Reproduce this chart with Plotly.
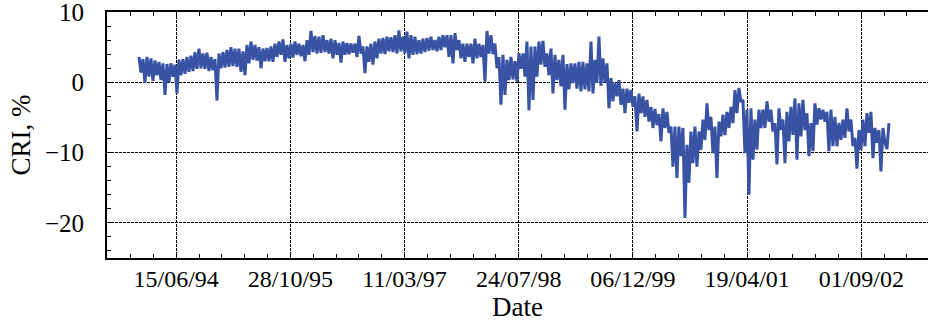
import pandas as pd
import plotly.graph_objects as go

# Upper / lower envelope of the dense daily CRI trace, read column by column (~17 days each)
cri_hi = [3.6, 3.3, 3.6, 3.4, 3.1, 2.9, 2.7, 2.6, 2.7, 2.5, 3.2, 3.3, 3.6, 3.8, 4.3, 4.8,
          4.1, 4.2, 3.6, 3.3, 4.1, 4.3, 4.6, 5.0, 4.8, 4.8, 4.4, 5.3, 5.8, 5.3, 5.0, 4.8,
          4.9, 5.1, 5.5, 5.8, 6.1, 5.3, 5.5, 5.8, 5.5, 5.3, 6.0, 7.3, 6.6, 6.5, 6.7, 6.0,
          6.2, 6.0, 5.6, 5.8, 5.6, 5.5, 5.5, 6.6, 5.1, 5.1, 5.5, 5.8, 6.2, 6.3, 6.5, 6.4,
          6.7, 7.4, 6.5, 7.2, 6.7, 6.5, 6.0, 6.2, 6.3, 6.5, 6.0, 6.5, 6.7, 6.7, 6.7, 7.0,
          6.0, 5.5, 5.5, 5.5, 6.2, 5.5, 5.3, 7.3, 6.7, 5.5, 3.6, 3.9, 3.2, 3.6, 3.0, 4.1,
          4.1, 5.8, 5.1, 5.1, 5.8, 5.9, 4.1, 4.8, 3.9, 3.2, 3.9, 2.6, 2.7, 2.7, 2.9, 2.9,
          2.7, 5.8, 3.2, 6.5, 3.4, 2.7, 0.6, -0.1, 0.3, -0.9, -0.9, -1.1, -2.0, -1.6, -2.0, -2.5,
          -3.5, -3.8, -4.5, -3.7, -4.2, -6.3, -6.3, -6.3, -6.5, -8.9, -7.0, -6.3, -7.0, -5.3, -3.0, -4.9,
          -6.3, -5.6, -4.6, -4.2, -3.5, -1.1, -0.8, -2.5, -3.9, -3.7, -5.3, -3.9, -3.9, -2.7, -3.9, -5.8,
          -3.7, -5.3, -4.2, -3.5, -2.3, -3.0, -2.5, -4.4, -5.8, -3.0, -3.7, -3.9, -4.2, -3.9, -4.9, -5.8,
          -5.3, -3.7, -5.3, -7.9, -6.8, -5.3, -4.4, -4.2, -6.5, -6.8, -6.5, -9.5]
cri_lo = [1.4, -0.1, 0.8, 0.2, 1.0, 0.3, -1.8, 0.0, 0.8, -1.6, 1.0, 1.2, 1.5, 1.6, 1.9, 2.0,
          1.9, 1.6, 1.7, -2.6, 2.0, 2.1, 2.2, 2.3, 2.2, 1.5, 1.0, 2.7, 3.2, 3.1, 2.0, 3.0,
          3.0, 2.9, 3.6, 3.9, 2.9, 3.4, 3.5, 3.9, 3.7, 3.0, 3.9, 4.3, 4.1, 4.2, 4.3, 4.1,
          3.4, 3.9, 2.8, 3.9, 4.0, 4.2, 3.6, 4.1, 1.3, 2.9, 2.5, 3.4, 4.1, 4.0, 4.4, 4.3,
          4.1, 4.4, 4.1, 3.4, 3.9, 4.0, 4.1, 4.3, 4.5, 4.6, 4.4, 4.6, 5.0, 3.6, 2.7, 4.6,
          3.4, 2.9, 3.6, 2.7, 3.4, 3.6, 0.1, 4.1, 4.0, 2.0, -3.2, -1.8, 0.3, 0.4, 0.1, 1.9,
          0.8, -4.0, -2.5, 0.8, 2.5, 2.2, 1.0, -1.6, 0.3, -0.6, -3.9, -1.0, -0.1, -0.9, -1.3, -1.0,
          -1.3, -1.6, -0.1, -0.5, 0.0, -3.7, -2.7, -2.0, -3.2, -4.4, -2.9, -3.5, -7.0, -4.4, -4.9, -5.6,
          -6.5, -6.1, -8.4, -6.5, -7.2, -12.0, -13.6, -10.5, -19.3, -14.3, -11.5, -12.0, -9.6, -8.2, -6.8, -10.1,
          -13.6, -7.7, -7.5, -6.5, -5.8, -4.4, -2.8, -10.1, -16.0, -11.0, -9.6, -6.5, -6.5, -5.6, -7.0, -11.7,
          -6.8, -11.5, -8.4, -7.5, -11.0, -7.7, -6.8, -10.5, -9.8, -6.0, -5.3, -5.6, -9.8, -9.1, -9.1, -8.2,
          -7.9, -7.0, -9.1, -12.3, -9.6, -9.1, -7.2, -10.8, -8.6, -12.7, -8.6, -5.8]

tick_dates = ["1994-06-15", "1995-10-28", "1997-03-11", "1998-07-24",
              "1999-12-06", "2001-04-19", "2002-09-01"]
tick_labels = ["15/06/94", "28/10/95", "11/03/97", "24/07/98",
               "06/12/99", "19/04/01", "01/09/02"]
y_ticks = [10, 0, -10, -20]

cri = []
for h, l in zip(cri_hi, cri_lo):
    cri.extend([h, l])
dates = pd.date_range("1994-01-03", "2002-12-31", periods=len(cri))

font_family = "Liberation Serif, Times New Roman, serif"
DAY_MS = 86400000

fig = go.Figure()
fig.add_trace(go.Scatter(x=dates, y=cri, mode="lines",
                         line=dict(color="#3953a4", width=3),
                         showlegend=False, hoverinfo="skip"))

fig.update_layout(
    width=928, height=322,
    margin=dict(l=107, r=0, t=12, b=64),
    paper_bgcolor="white", plot_bgcolor="white",
    font=dict(family=font_family, size=24, color="black"),
)
fig.update_xaxes(
    type="date",
    range=["1993-08-16", "2003-06-20"],
    tickmode="array", tickvals=tick_dates, ticktext=tick_labels,
    ticks="inside", ticklen=4, tickwidth=1, tickcolor="black",
    showgrid=True, gridcolor="black", gridwidth=1, griddash="3px,1px",
    showline=True, linecolor="black", linewidth=2, mirror="ticks",
    minor=dict(ticks="inside", ticklen=4, tickcolor="black", tickwidth=1,
               dtick=100 * DAY_MS, tick0="1994-06-15", showgrid=False),
    tickfont=dict(family=font_family, size=24, color="black"),
    ticklabelstandoff=-2,
    title=dict(text="Date", font=dict(family=font_family, size=27, color="black"), standoff=1),
    zeroline=False,
)
fig.update_yaxes(
    range=[-25, 10],
    tickmode="array", tickvals=y_ticks,
    ticks="inside", ticklen=4, tickwidth=1, tickcolor="black",
    showgrid=True, gridcolor="black", gridwidth=1, griddash="3px,1px",
    showline=True, linecolor="black", linewidth=2, mirror=False,
    minor=dict(ticks="inside", ticklen=4, tickcolor="black", tickwidth=1,
               dtick=2, tick0=0, showgrid=False),
    tickfont=dict(family=font_family, size=25, color="black"),
    ticklabelstandoff=16,
    ticklabeloverflow="allow",
    title=dict(text="CRI, %", font=dict(family=font_family, size=27, color="black"), standoff=6),
    zeroline=False,
)

fig.write_html("out.html")
